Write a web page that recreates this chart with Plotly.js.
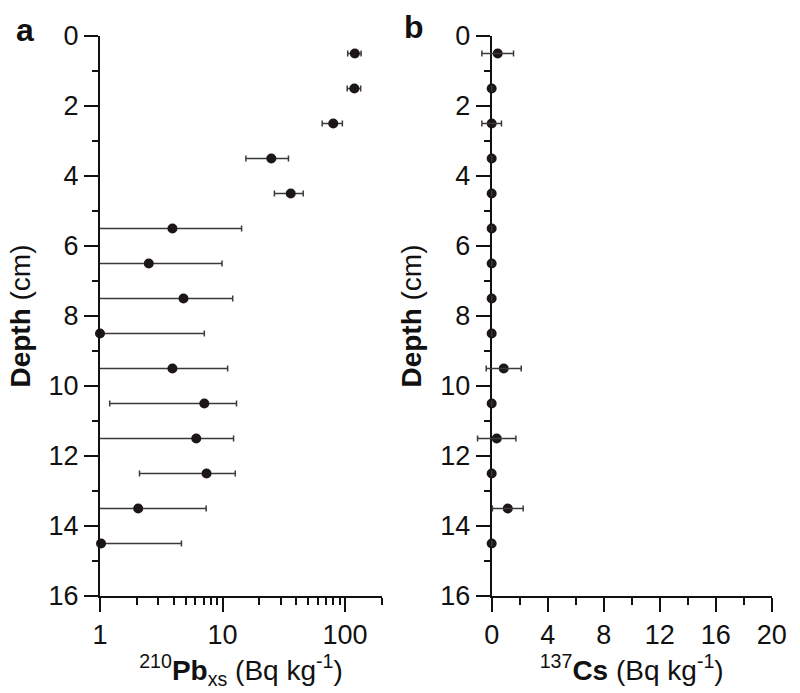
<!DOCTYPE html>
<html>
<head>
<meta charset="utf-8">
<script src="https://cdn.plot.ly/plotly-3.0.1.min.js"></script>
<style>html,body{margin:0;padding:0;background:#fff;}#chart{width:800px;height:693px;}</style>
</head>
<body>
<div id="chart"></div>
<script>
// Depth of each slice (cm)
var depth = [0.5, 1.5, 2.5, 3.5, 4.5, 5.5, 6.5, 7.5, 8.5, 9.5, 10.5, 11.5, 12.5, 13.5, 14.5];
// 210Pb excess activity (Bq/kg) and its uncertainty
var pbxs = [120, 119, 80, 25, 36, 3.9, 2.5, 4.8, 1.0, 3.9, 7.1, 6.1, 7.4, 2.05, 1.02];
var pbxsErr = [15, 15, 15, 9.5, 9.5, 10.4, 7.4, 7.3, 6.1, 7.1, 5.9, 6.2, 5.3, 5.3, 3.6];
// 137Cs activity (Bq/kg) and its uncertainty
var cs = [0.43, 0, 0, 0, 0, 0, 0, 0, 0, 0.86, 0, 0.36, 0, 1.15, 0];
var csErr = [1.13, 0, 0.7, 0, 0, 0, 0, 0, 0, 1.25, 0, 1.37, 0, 1.1, 0];
// Tick labels
var pbTicks = [1, 10, 100];
var csTicks = [0, 4, 8, 12, 16, 20];
var depthTicks = [0, 2, 4, 6, 8, 10, 12, 14, 16];

var FONT = 'Liberation Sans, Arial, sans-serif';
var INK = '#111111';
var DOT = '#1c1618';
var BAR = '#3a3a3a';

// Cs panel geometry; a hidden twin axis reaches a little left of 0 so the
// negative halves of the error bars are not clipped by the plot area.
var csRange = [0, 20];
var csDomain = [0.6146, 0.9646];
var padFrac = 0.04; // extra paper width on the left for the twin axis
var csPerPaper = (csRange[1] - csRange[0]) / (csDomain[1] - csDomain[0]);
var twinRange = [csRange[0] - padFrac * csPerPaper, csRange[1]];
var twinDomain = [csDomain[0] - padFrac, csDomain[1]];

var traces = [
  { // Pb error bars (clipped at axis)
    x: pbxs, y: depth, type: 'scatter', mode: 'markers', xaxis: 'x', yaxis: 'y',
    marker: {size: 10, color: DOT, opacity: 0},
    error_x: {type: 'data', array: pbxsErr, visible: true, color: BAR, thickness: 1.5, width: 3},
    cliponaxis: true, hoverinfo: 'skip'
  },
  { // Pb points
    x: pbxs, y: depth, type: 'scatter', mode: 'markers', xaxis: 'x', yaxis: 'y',
    marker: {size: 10, color: DOT}, cliponaxis: false
  },
  { // Cs error bars on the twin axis
    x: cs, y: depth, type: 'scatter', mode: 'markers', xaxis: 'x3', yaxis: 'y2',
    marker: {size: 10, color: DOT, opacity: 0},
    error_x: {type: 'data', array: csErr, visible: true, color: BAR, thickness: 1.5, width: 3},
    cliponaxis: false, hoverinfo: 'skip'
  },
  { // Cs points
    x: cs, y: depth, type: 'scatter', mode: 'markers', xaxis: 'x2', yaxis: 'y2',
    marker: {size: 10, color: DOT}, cliponaxis: false
  }
];

function yAx(extra) {
  return Object.assign({
    range: [16, 0], tickvals: depthTicks, ticktext: depthTicks.map(String),
    ticks: 'outside', ticklen: 14, tickwidth: 2, tickcolor: INK,
    minor: {dtick: 1, tick0: 0, ticks: 'outside', ticklen: 6, tickwidth: 2, tickcolor: INK, showgrid: false},
    showline: true, linewidth: 2, linecolor: INK, showgrid: false, zeroline: false,
    tickfont: {family: FONT, size: 27, color: INK},
    title: {text: '<b>Depth</b> (cm)', font: {family: FONT, size: 28, color: INK}, standoff: 10},
    domain: [0.14, 0.948], fixedrange: true
  }, extra);
}

var layout = {
  width: 800, height: 693,
  margin: {l: 0, r: 0, t: 0, b: 0},
  paper_bgcolor: '#fff', plot_bgcolor: 'rgba(0,0,0,0)',
  showlegend: false,
  font: {family: FONT, color: INK},
  xaxis: {
    type: 'log', range: [0, Math.log10(200)], domain: [0.125, 0.4775], anchor: 'y',
    tickvals: pbTicks, ticktext: pbTicks.map(String),
    ticks: 'outside', ticklen: 14, tickwidth: 2, tickcolor: INK,
    minor: {dtick: 'D1', ticks: 'outside', ticklen: 7, tickwidth: 2, tickcolor: INK, showgrid: false},
    showline: true, linewidth: 2, linecolor: INK, showgrid: false, zeroline: false,
    tickfont: {family: FONT, size: 27, color: INK},
    title: {text: '<sup>210</sup><b>Pb</b><sub>xs</sub> (Bq kg<sup>-1</sup>)', font: {family: FONT, size: 28, color: INK}, standoff: 4},
    fixedrange: true
  },
  yaxis: yAx({anchor: 'x'}),
  xaxis2: {
    range: csRange, domain: csDomain, anchor: 'y2',
    tickvals: csTicks, ticktext: csTicks.map(String),
    ticks: 'outside', ticklen: 14, tickwidth: 2, tickcolor: INK,
    minor: {dtick: 2, tick0: 0, ticks: 'outside', ticklen: 7, tickwidth: 2, tickcolor: INK, showgrid: false},
    showline: true, linewidth: 2, linecolor: INK, showgrid: false, zeroline: false,
    tickfont: {family: FONT, size: 27, color: INK},
    title: {text: '<sup>137</sup><b>Cs</b> (Bq kg<sup>-1</sup>)', font: {family: FONT, size: 28, color: INK}, standoff: 4},
    fixedrange: true
  },
  xaxis3: {
    range: twinRange, domain: twinDomain, anchor: 'y2', visible: false,
    showgrid: false, zeroline: false, fixedrange: true
  },
  yaxis2: yAx({anchor: 'x2'}),
  annotations: [
    {text: '<b>a</b>', x: 25 / 800, y: 1 - 30 / 693, xref: 'paper', yref: 'paper', showarrow: false,
     xanchor: 'center', yanchor: 'middle', font: {family: FONT, size: 32, color: INK}},
    {text: '<b>b</b>', x: 414 / 800, y: 1 - 27 / 693, xref: 'paper', yref: 'paper', showarrow: false,
     xanchor: 'center', yanchor: 'middle', font: {family: FONT, size: 32, color: INK}}
  ]
};

Plotly.newPlot('chart', traces, layout, {displayModeBar: false, staticPlot: true});
</script>
</body>
</html>
